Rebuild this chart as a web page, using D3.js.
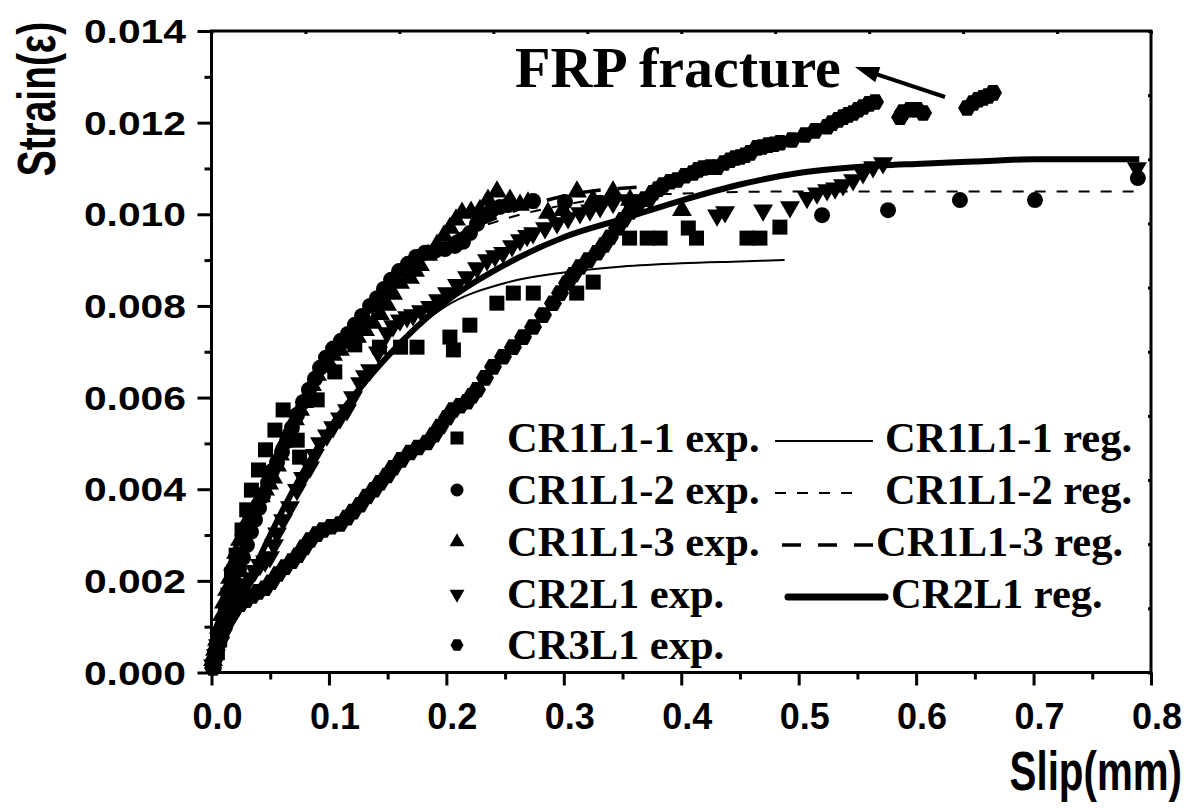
<!DOCTYPE html>
<html><head><meta charset="utf-8">
<script src="https://cdn.jsdelivr.net/npm/d3@7"></script>
<style>
html,body{margin:0;padding:0;background:#fff;}
svg{display:block;}
</style></head><body>
<svg id="c" width="1201" height="809"></svg>
<script>
// ---------- data (slip mm, strain) ----------
const xTickValues = [0, 0.1, 0.2, 0.3, 0.4, 0.5, 0.6, 0.7, 0.8];
const xTickLabels = ["0.0","0.1","0.2","0.3","0.4","0.5","0.6","0.7","0.8"];
const yTickValues = [0, 0.002, 0.004, 0.006, 0.008, 0.010, 0.012, 0.014];
const yTickLabels = ["0.000","0.002","0.004","0.006","0.008","0.010","0.012","0.014"];

const cr1l1_1_exp = [[0.002,0.00016],[0.005,0.00043],[0.007,0.00071],[0.010,0.00104],[0.012,0.00136],[0.014,0.00169],[0.017,0.00213],[0.021,0.00256],[0.026,0.00311],[0.030,0.00355],[0.034,0.00398],[0.040,0.00442],[0.046,0.00486],[0.054,0.00529],[0.061,0.00573],[0.073,0.00507],[0.075,0.00470],[0.090,0.00595],[0.105,0.00656],[0.122,0.00715],[0.143,0.00710],[0.161,0.00710],[0.175,0.00710],[0.203,0.00732],[0.206,0.00704],[0.220,0.00758],[0.243,0.00806],[0.257,0.00828],[0.274,0.00828],[0.311,0.00828],[0.325,0.00852],[0.356,0.00948],[0.371,0.00948],[0.382,0.00948],[0.406,0.00970],[0.413,0.00948],[0.456,0.00948],[0.467,0.00948],[0.484,0.00972]];

const cr1l1_2_exp = [[0.0013,0.00023],[0.0030,0.00045],[0.0047,0.00060],[0.0064,0.00080],[0.0089,0.00101],[0.0115,0.00125],[0.0140,0.00149],[0.0166,0.00171],[0.0200,0.00195],[0.0234,0.00224],[0.0268,0.00250],[0.0302,0.00278],[0.0336,0.00307],[0.0370,0.00333],[0.0404,0.00359],[0.0438,0.00385],[0.0481,0.00414],[0.0515,0.00440],[0.0558,0.00459],[0.0600,0.00481],[0.0643,0.00505],[0.0685,0.00534],[0.0728,0.00562],[0.0779,0.00590],[0.0830,0.00617],[0.0881,0.00641],[0.0924,0.00665],[0.0975,0.00687],[0.1035,0.00707],[0.1103,0.00724],[0.1162,0.00739],[0.1222,0.00759],[0.1282,0.00778],[0.1350,0.00800],[0.1409,0.00817],[0.1469,0.00837],[0.1529,0.00857],[0.1597,0.00876],[0.1674,0.00892],[0.1742,0.00907],[0.1818,0.00916],[0.1903,0.00920],[0.1988,0.00924],[0.2073,0.00931],[0.2141,0.00940],[0.2201,0.00959],[0.2261,0.00979],[0.2320,0.00996],[0.2388,0.01009],[0.2457,0.01016],[0.2525,0.01020],[0.2738,0.01029],[0.3010,0.01027],[0.3309,0.01025],[0.5199,0.00998],[0.5761,0.01009],[0.6373,0.01031],[0.7012,0.01031],[0.7888,0.01079]];

const cr1l1_3_exp = [[0.0013,0.00027],[0.0030,0.00049],[0.0047,0.00071],[0.0064,0.00097],[0.0089,0.00125],[0.0106,0.00152],[0.0132,0.00180],[0.0158,0.00206],[0.0183,0.00235],[0.0209,0.00261],[0.0243,0.00289],[0.0277,0.00311],[0.0311,0.00333],[0.0345,0.00351],[0.0387,0.00366],[0.0421,0.00384],[0.0456,0.00399],[0.0490,0.00412],[0.0524,0.00425],[0.0558,0.00451],[0.0583,0.00475],[0.0626,0.00504],[0.0668,0.00530],[0.0711,0.00552],[0.0754,0.00573],[0.0788,0.00590],[0.0822,0.00606],[0.0856,0.00627],[0.0898,0.00649],[0.0941,0.00667],[0.0983,0.00682],[0.1035,0.00693],[0.1094,0.00704],[0.1162,0.00719],[0.1239,0.00732],[0.1307,0.00747],[0.1375,0.00763],[0.1435,0.00782],[0.1495,0.00802],[0.1546,0.00826],[0.1605,0.00850],[0.1690,0.00861],[0.1733,0.00876],[0.1775,0.00889],[0.1844,0.00911],[0.1920,0.00933],[0.1980,0.00953],[0.2031,0.00970],[0.2082,0.00988],[0.2133,0.01003],[0.2210,0.01005],[0.2286,0.01009],[0.2354,0.01031],[0.2431,0.01049],[0.2542,0.01031],[0.2627,0.01020],[0.2695,0.01025],[0.2865,0.01003],[0.2993,0.01009],[0.3112,0.01049],[0.3249,0.01031],[0.3419,0.01049],[0.3564,0.01031],[0.4006,0.01009]];

const cr2l1_exp = [[0.0013,0.00016],[0.0038,0.00038],[0.0055,0.00060],[0.0081,0.00082],[0.0115,0.00104],[0.0140,0.00125],[0.0175,0.00147],[0.0209,0.00165],[0.0243,0.00180],[0.0285,0.00193],[0.0328,0.00206],[0.0370,0.00222],[0.0413,0.00235],[0.0456,0.00243],[0.0498,0.00252],[0.0532,0.00278],[0.0558,0.00304],[0.0609,0.00333],[0.0668,0.00361],[0.0728,0.00399],[0.0779,0.00425],[0.0839,0.00448],[0.0881,0.00475],[0.0924,0.00501],[0.0983,0.00518],[0.1035,0.00536],[0.1094,0.00555],[0.1154,0.00573],[0.1205,0.00601],[0.1265,0.00632],[0.1307,0.00647],[0.1350,0.00660],[0.1418,0.00699],[0.1495,0.00741],[0.1546,0.00756],[0.1605,0.00769],[0.1665,0.00776],[0.1716,0.00780],[0.1784,0.00789],[0.1861,0.00798],[0.1929,0.00813],[0.2005,0.00828],[0.2090,0.00846],[0.2176,0.00863],[0.2261,0.00883],[0.2346,0.00900],[0.2414,0.00909],[0.2482,0.00916],[0.2559,0.00931],[0.2627,0.00944],[0.2687,0.00953],[0.2738,0.00959],[0.2840,0.00970],[0.2942,0.00981],[0.3036,0.00992],[0.3138,0.01003],[0.3223,0.01009],[0.3309,0.01016],[0.3419,0.01025],[0.3538,0.01031],[0.3649,0.01031],[0.3734,0.01031],[0.4305,0.00998],[0.4373,0.01005],[0.4697,0.01009],[0.4926,0.01016],[0.5071,0.01036],[0.5156,0.01046],[0.5242,0.01053],[0.5310,0.01057],[0.5378,0.01064],[0.5463,0.01075],[0.5548,0.01090],[0.5633,0.01103],[0.5718,0.01112],[0.7880,0.01101]];

const cr3l1_exp = [[0.0013,0.00010],[0.0021,0.00027],[0.0038,0.00045],[0.0055,0.00060],[0.0081,0.00077],[0.0106,0.00095],[0.0132,0.00110],[0.0166,0.00125],[0.0200,0.00139],[0.0243,0.00149],[0.0294,0.00158],[0.0345,0.00167],[0.0396,0.00176],[0.0456,0.00184],[0.0507,0.00197],[0.0566,0.00215],[0.0626,0.00230],[0.0685,0.00243],[0.0737,0.00256],[0.0788,0.00273],[0.0839,0.00289],[0.0898,0.00302],[0.0950,0.00311],[0.1018,0.00318],[0.1094,0.00324],[0.1154,0.00338],[0.1205,0.00351],[0.1265,0.00366],[0.1324,0.00384],[0.1384,0.00399],[0.1435,0.00414],[0.1495,0.00430],[0.1546,0.00447],[0.1614,0.00464],[0.1690,0.00480],[0.1758,0.00491],[0.1835,0.00502],[0.1895,0.00519],[0.1946,0.00537],[0.2005,0.00556],[0.2056,0.00573],[0.2116,0.00582],[0.2176,0.00591],[0.2218,0.00604],[0.2261,0.00617],[0.2329,0.00643],[0.2397,0.00667],[0.2482,0.00689],[0.2567,0.00710],[0.2653,0.00732],[0.2738,0.00754],[0.2823,0.00780],[0.2908,0.00806],[0.2968,0.00828],[0.3028,0.00850],[0.3079,0.00868],[0.3138,0.00885],[0.3207,0.00900],[0.3283,0.00916],[0.3342,0.00933],[0.3393,0.00950],[0.3453,0.00970],[0.3504,0.00988],[0.3564,0.01005],[0.3623,0.01020],[0.3691,0.01033],[0.3760,0.01047],[0.3802,0.01055],[0.3845,0.01064],[0.3905,0.01071],[0.3964,0.01075],[0.4032,0.01084],[0.4100,0.01090],[0.4143,0.01097],[0.4185,0.01101],[0.4245,0.01103],[0.4305,0.01103],[0.4364,0.01112],[0.4415,0.01118],[0.4458,0.01123],[0.4500,0.01125],[0.4543,0.01129],[0.4586,0.01134],[0.4645,0.01145],[0.4688,0.01147],[0.4739,0.01151],[0.4790,0.01153],[0.4841,0.01156],[0.4943,0.01162],[0.5054,0.01173],[0.5139,0.01182],[0.5242,0.01191],[0.5284,0.01199],[0.5335,0.01206],[0.5378,0.01212],[0.5420,0.01217],[0.5463,0.01221],[0.5505,0.01228],[0.5548,0.01234],[0.5599,0.01241],[0.5650,0.01245],[0.5863,0.01212],[0.5889,0.01223],[0.5948,0.01228],[0.6008,0.01228],[0.6059,0.01221],[0.6434,0.01232],[0.6485,0.01243],[0.6527,0.01250],[0.6570,0.01254],[0.6612,0.01258],[0.6655,0.01265]];

const cr1l1_1_reg = [[0,0],[0.02,0.0013],[0.05,0.0030],[0.10,0.0053],[0.15,0.0069],[0.20,0.0080],[0.25,0.0085],[0.30,0.00873],[0.35,0.00886],[0.40,0.00893],[0.45,0.00897],[0.488,0.0090]];
const cr1l1_2_reg = [[0,0],[0.02,0.0019],[0.05,0.0043],[0.10,0.0069],[0.15,0.0085],[0.20,0.0094],[0.25,0.0099],[0.30,0.0102],[0.35,0.0104],[0.40,0.01045],[0.50,0.0105],[0.60,0.0105],[0.70,0.0105],[0.79,0.0105]];
const cr1l1_3_reg = [[0,0],[0.02,0.0019],[0.05,0.0042],[0.10,0.0068],[0.15,0.0084],[0.20,0.0094],[0.25,0.0100],[0.30,0.0104],[0.37,0.0106]];
const cr2l1_reg = [[0,0],[0.02,0.0013],[0.05,0.0030],[0.10,0.0053],[0.15,0.0069],[0.20,0.0081],[0.25,0.0089],[0.30,0.0095],[0.35,0.0099],[0.40,0.0103],[0.45,0.01065],[0.50,0.0109],[0.55,0.01103],[0.60,0.0111],[0.65,0.01115],[0.70,0.0112],[0.75,0.0112],[0.79,0.0112]];

const expNames = ["CR1L1-1 exp.","CR1L1-2 exp.","CR1L1-3 exp.","CR2L1 exp.","CR3L1 exp."];
const regNames = ["CR1L1-1 reg.","CR1L1-2 reg.","CR1L1-3 reg.","CR2L1 reg."];
const annotation = "FRP fracture";
const xTitle = "Slip(mm)";
const yTitle = "Strain(ε)";

// ---------- layout ----------
const svg = d3.select("#c");
const L = 211.5, R = 1151, T = 31, B = 672.5;
const x = d3.scaleLinear().domain([0, 0.8]).range([L, R]);
const y = d3.scaleLinear().domain([0, 0.014]).range([B, T]);
const sans = "'Liberation Sans', Arial, sans-serif";
const serif = "'Liberation Serif', 'Times New Roman', serif";

function hexPath(r){
  const p = d3.path();
  for(let i=0;i<6;i++){
    const a = Math.PI/3*i;
    const px = r*Math.cos(a), py = r*Math.sin(a);
    if(i===0) p.moveTo(px,py); else p.lineTo(px,py);
  }
  p.closePath();
  return p.toString();
}
const shapes = {
  square: s => d3.symbol(d3.symbolSquare, s*s)(),
  circle: s => d3.symbol(d3.symbolCircle, Math.PI*s*s/4)(),
  up: s => d3.symbol(d3.symbolTriangle, s*s*0.43)(),
  down: s => d3.symbol(d3.symbolTriangle, s*s*0.43)(),
  hex: s => hexPath(s/2)
};
const series = [
  {data: cr1l1_1_exp, shape: "square", size: 15},
  {data: cr1l1_2_exp, shape: "circle", size: 16},
  {data: cr1l1_3_exp, shape: "up", size: 20},
  {data: cr2l1_exp, shape: "down", size: 20},
  {data: cr3l1_exp, shape: "hex", size: 18}
];
const gMarks = svg.append("g");
series.forEach(s => {
  gMarks.selectAll(null).data(s.data).enter().append("path")
    .attr("d", shapes[s.shape](s.size))
    .attr("transform", d => `translate(${x(d[0])},${y(d[1])})` + (s.shape==="down" ? " rotate(180)" : ""))
    .attr("fill", "#000");
});

// regression lines
const line = d3.line().x(d => x(d[0])).y(d => y(d[1])).curve(d3.curveMonotoneX);
const regs = [
  {data: cr1l1_1_reg, w: 2, dash: null},
  {data: cr1l1_2_reg, w: 2, dash: "11,11"},
  {data: cr1l1_3_reg, w: 3.5, dash: "19,17"},
  {data: cr2l1_reg, w: 6, dash: null}
];
regs.forEach(r => {
  svg.append("path").datum(r.data).attr("d", line)
    .attr("fill","none").attr("stroke","#000").attr("stroke-width", r.w)
    .attr("stroke-dasharray", r.dash);
});

// axes
const axB = d3.axisBottom(x).tickValues(xTickValues).tickSize(13).tickFormat("");
const axBm = d3.axisBottom(x).tickValues(d3.range(0.05, 0.8, 0.1)).tickSize(7).tickFormat("");
const axL = d3.axisLeft(y).tickValues(yTickValues).tickSize(14).tickFormat("");
const axLm = d3.axisLeft(y).tickValues(d3.range(0.001, 0.014, 0.002)).tickSize(7).tickFormat("");
const axT = d3.axisBottom(x).tickValues(d3.range(0, 0.8001, 0.08)).tickSize(3).tickFormat("");
const axR = d3.axisRight(y).tickValues(d3.range(0, 0.01401, 0.0014)).tickSize(-3).tickFormat("");
function addAxis(ax, tr){
  const g = svg.append("g").attr("transform", tr).call(ax);
  g.select(".domain").remove();
  g.selectAll("line").attr("stroke","#000").attr("stroke-width",3);
  return g;
}
addAxis(axB, `translate(0,${B})`);
addAxis(axBm, `translate(0,${B})`);
addAxis(axL, `translate(${L},0)`);
addAxis(axLm, `translate(${L},0)`);
addAxis(axT, `translate(0,${T})`);
addAxis(axR, `translate(${R},0)`);
svg.append("rect").attr("x",L).attr("y",T).attr("width",R-L).attr("height",B-T)
  .attr("fill","none").attr("stroke","#000").attr("stroke-width",3);

// tick labels
svg.selectAll(null).data(xTickValues).enter().append("text")
  .attr("x", d => x(d)+6).attr("y", 729)
  .attr("text-anchor","middle").attr("font-family",sans).attr("font-weight","bold")
  .attr("font-size",36).text((d,i) => xTickLabels[i]);
svg.selectAll(null).data(yTickValues).enter().append("text")
  .attr("transform", d => `translate(186,${y(d)+12}) scale(1.2,1)`)
  .attr("text-anchor","end").attr("font-family",sans).attr("font-weight","bold")
  .attr("font-size",34).text((d,i) => yTickLabels[i]);

// titles
svg.append("text").attr("transform","translate(1182,790) scale(0.72,1)")
  .attr("text-anchor","end").attr("font-family",sans).attr("font-weight","bold")
  .attr("font-size",56).text(xTitle);
svg.append("text").attr("transform","translate(55,99) rotate(-90) scale(0.72,1)")
  .attr("text-anchor","middle").attr("font-family",sans).attr("font-weight","bold")
  .attr("font-size",54).text(yTitle);

// annotation
svg.append("text").attr("x",515).attr("y",87).attr("font-family",serif)
  .attr("font-weight","bold").attr("font-size",58).text(annotation);
const ax0 = 945, ay0 = 97, ax1 = 855, ay1 = 67;
const ang = Math.atan2(ay1-ay0, ax1-ax0);
svg.append("line").attr("x1",ax0).attr("y1",ay0)
  .attr("x2",ax1-20*Math.cos(ang)).attr("y2",ay1-20*Math.sin(ang))
  .attr("stroke","#000").attr("stroke-width",4);
svg.append("path").attr("d","M0,0 L-24,-8 L-24,8 Z").attr("fill","#000")
  .attr("transform", `translate(${ax1},${ay1}) rotate(${ang*180/Math.PI})`);

// legend
const rowY = [438, 490, 542, 594, 645];
const legShapes = ["square","circle","up","down","hex"];
const legG = svg.append("g");
expNames.forEach((n,i) => {
  const sh = legShapes[i];
  legG.append("path").attr("d", shapes[sh](sh==="up"||sh==="down"?15:13))
    .attr("transform", `translate(457,${rowY[i]})` + (sh==="down"?" rotate(180)":""))
    .attr("fill","#000");
  legG.append("text").attr("x",507).attr("y",rowY[i]+14).attr("font-family",serif)
    .attr("font-weight","bold").attr("font-size",42.5).text(n);
});
const legLines = [
  {x1:775,x2:873,w:2,dash:null,tx:885},
  {x1:775,x2:862,w:2,dash:"11,11",tx:885},
  {x1:782,x2:874,w:3.5,dash:"19,17",tx:876},
  {x1:788,x2:885,w:7,dash:null,tx:891}
];
regNames.forEach((n,i) => {
  const l = legLines[i];
  legG.append("line").attr("x1",l.x1).attr("x2",l.x2).attr("y1",rowY[i]+3).attr("y2",rowY[i]+3)
    .attr("stroke","#000").attr("stroke-width",l.w).attr("stroke-dasharray",l.dash)
    .attr("stroke-linecap", i===3 ? "round" : "butt");
  legG.append("text").attr("x",l.tx).attr("y",rowY[i]+14).attr("font-family",serif)
    .attr("font-weight","bold").attr("font-size",42.5).text(n);
});
</script>
</body></html>
